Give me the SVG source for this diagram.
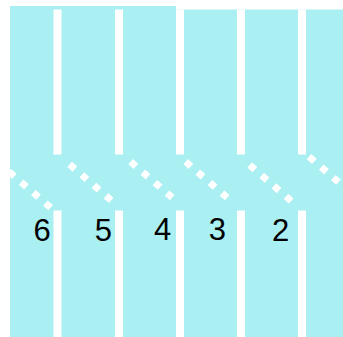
<svg xmlns="http://www.w3.org/2000/svg" width="343" height="337" viewBox="0 0 343 337">
<style>
.lot{fill:#aaeff1}
.bar{fill:#ffffff}
.dots{fill:none;stroke:#ffffff;stroke-width:7;stroke-dasharray:7 9}
.num{font-family:"Liberation Sans",Arial,sans-serif;font-size:31px;fill:#000;text-anchor:middle}
</style>
<rect width="343" height="337" fill="#ffffff"/>
<g id="lot">
<polygon class="lot" points="10,6 176,6 176,9.5 343,9.5 343,337 10,337"/>
</g>
<g id="bars-top">
<rect class="bar" x="53.5" y="9.5" width="8" height="145"/>
<rect class="bar" x="115" y="9.5" width="8" height="145"/>
<rect class="bar" x="176" y="9.5" width="8" height="145"/>
<rect class="bar" x="237" y="9.5" width="8" height="145"/>
<rect class="bar" x="298" y="9.5" width="8" height="145"/>
</g>
<g id="bars-bottom">
<rect class="bar" x="53.5" y="210.5" width="8" height="127"/>
<rect class="bar" x="115" y="210.5" width="8" height="127"/>
<rect class="bar" x="176" y="210.5" width="8" height="127"/>
<rect class="bar" x="237" y="210.5" width="8" height="127"/>
<rect class="bar" x="298" y="210.5" width="8" height="127"/>
</g>
<g id="dotted-lines">
<path class="dots" d="M9.05,171.71 l41.6,35.88"/>
<path class="dots" d="M69.65,164.41 l41.6,35.88"/>
<path class="dots" d="M130.65,161.71 l41.6,35.88"/>
<path class="dots" d="M185.65,161.71 l41.6,35.88"/>
<path class="dots" d="M249.65,165.01 l41.6,35.88"/>
<path class="dots" d="M309.05,156.71 l41.6,35.88"/>
</g>
<g id="labels">
<text class="num" x="42" y="240.5">6</text>
<text class="num" x="103.3" y="240.5">5</text>
<text class="num" x="162.5" y="240">4</text>
<text class="num" x="217.3" y="240">3</text>
<text class="num" x="280.7" y="241">2</text>
</g>
</svg>
